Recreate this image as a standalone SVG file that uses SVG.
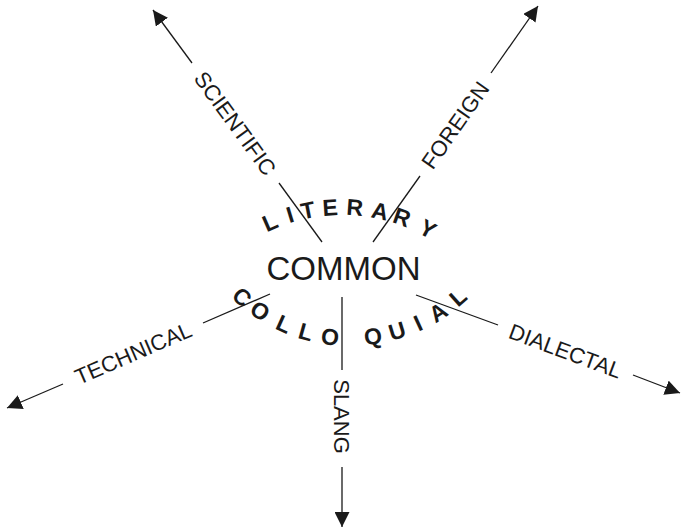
<svg xmlns="http://www.w3.org/2000/svg" width="681" height="529" viewBox="0 0 681 529">
<style>
.ln{stroke:#1a1a1a;stroke-width:1.3;fill:none}
.lab{font-family:"Liberation Sans",Arial,sans-serif;font-size:22px;fill:#1a1a1a;text-anchor:middle}
.arc{font-family:"Liberation Sans",Arial,sans-serif;font-size:23px;font-weight:bold;fill:#1a1a1a;text-anchor:middle}
.main{font-family:"Liberation Sans",Arial,sans-serif;font-size:33px;fill:#1a1a1a;text-anchor:middle}
</style>
<defs>
<marker id="arr" viewBox="0 0 15 15" markerWidth="15" markerHeight="15" refX="15" refY="7.5" orient="auto" markerUnits="userSpaceOnUse">
<path d="M0,0 L15,7.5 L0,15 Z" fill="#1a1a1a"/>
</marker>
</defs>
<rect width="681" height="529" fill="#fff"/>
<g id="connectors">
<line class="ln" x1="322" y1="242" x2="279" y2="183"/>
<line class="ln" x1="192" y1="63" x2="153" y2="10" marker-end="url(#arr)"/>
<line class="ln" x1="373" y1="242" x2="420" y2="176"/>
<line class="ln" x1="491" y1="73" x2="538" y2="6" marker-end="url(#arr)"/>
<line class="ln" x1="270" y1="294" x2="203" y2="323"/>
<line class="ln" x1="63" y1="384" x2="7" y2="408" marker-end="url(#arr)"/>
<line class="ln" x1="416" y1="295" x2="498" y2="325"/>
<line class="ln" x1="633" y1="375" x2="680" y2="393" marker-end="url(#arr)"/>
<line class="ln" x1="342" y1="297" x2="342" y2="370"/>
<line class="ln" x1="342" y1="467" x2="342" y2="527" marker-end="url(#arr)"/>
</g>
<g id="node-common"><text class="main" x="343.5" y="280">COMMON</text></g>
<g id="node-literary">
<text class="arc" x="342" y="215" transform="rotate(-23.6 342 387)">L</text>
<text class="arc" x="342" y="215" transform="rotate(-16.8 342 387)">I</text>
<text class="arc" x="342" y="215" transform="rotate(-10.9 342 387)">T</text>
<text class="arc" x="342" y="215" transform="rotate(-3.8 342 387)">E</text>
<text class="arc" x="342" y="215" transform="rotate(4.1 342 387)">R</text>
<text class="arc" x="342" y="215" transform="rotate(12.2 342 387)">A</text>
<text class="arc" x="342" y="215" transform="rotate(19.5 342 387)">R</text>
<text class="arc" x="342" y="215" transform="rotate(28.5 342 387)">Y</text>
</g>
<g id="node-colloquial">
<text class="arc" x="350" y="346" transform="rotate(41.5 350 175)">C</text>
<text class="arc" x="350" y="346" transform="rotate(33.5 350 175)">O</text>
<text class="arc" x="350" y="346" transform="rotate(23.9 350 175)">L</text>
<text class="arc" x="350" y="346" transform="rotate(15.7 350 175)">L</text>
<text class="arc" x="350" y="346" transform="rotate(7 350 175)">O</text>
<text class="arc" x="350" y="346" transform="rotate(-8.1 350 175)">Q</text>
<text class="arc" x="350" y="346" transform="rotate(-16.8 350 175)">U</text>
<text class="arc" x="350" y="346" transform="rotate(-24.7 350 175)">I</text>
<text class="arc" x="350" y="346" transform="rotate(-32.7 350 175)">A</text>
<text class="arc" x="350" y="346" transform="rotate(-41.5 350 175)">L</text>
</g>
<g id="node-scientific" transform="translate(235.4 123.2) rotate(53.9)"><text class="lab" x="0" y="8">SCIENTIFIC</text></g>
<g id="node-foreign" transform="translate(455 125) rotate(-55)"><text class="lab" x="0" y="8">FOREIGN</text></g>
<g id="node-technical" transform="translate(133 353) rotate(-23.4)"><text class="lab" x="0" y="8">TECHNICAL</text></g>
<g id="node-dialectal" transform="translate(565.5 350.7) rotate(20.4)"><text class="lab" x="0" y="8">DIALECTAL</text></g>
<g id="node-slang" transform="translate(342 416.5) rotate(90)"><text class="lab" x="0" y="8">SLANG</text></g>
</svg>
